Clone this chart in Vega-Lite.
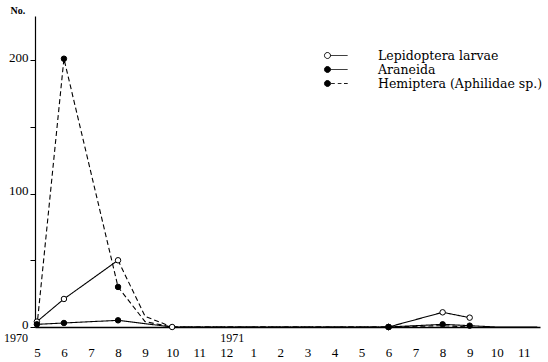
{
  "$schema": "https://vega.github.io/schema/vega-lite/v6.json",
  "width": 505,
  "height": 311,
  "autosize": {"type": "none"},
  "padding": {"left": 35, "top": 16, "right": 8, "bottom": 35},
  "background": "white",
  "config": {
    "view": {"stroke": null},
    "font": "Liberation Serif",
    "axis": {"domainColor": "black", "tickColor": "black", "labelColor": "black", "titleColor": "black", "grid": false, "labelFont": "Liberation Serif", "titleFont": "Liberation Serif"},
    "legend": {"labelFont": "DejaVu Serif", "labelColor": "black"}
  },
  "data": {
    "values": [
      {"series": "Lepidoptera larvae", "seg": "L1", "style": "solid", "t": 0, "v": 4, "obs": true},
      {"series": "Lepidoptera larvae", "seg": "L1", "style": "solid", "t": 1, "v": 21, "obs": true},
      {"series": "Lepidoptera larvae", "seg": "L1", "style": "solid", "t": 3, "v": 50, "obs": true},
      {"series": "Lepidoptera larvae", "seg": "L2", "style": "dashed", "t": 3, "v": 50, "obs": false},
      {"series": "Lepidoptera larvae", "seg": "L2", "style": "dashed", "t": 4, "v": 8, "obs": false},
      {"series": "Lepidoptera larvae", "seg": "L2", "style": "dashed", "t": 5, "v": 0, "obs": true},
      {"series": "Lepidoptera larvae", "seg": "L3", "style": "dashdot", "t": 5, "v": 0, "obs": false},
      {"series": "Lepidoptera larvae", "seg": "L3", "style": "dashdot", "t": 13, "v": 0, "obs": false},
      {"series": "Lepidoptera larvae", "seg": "L4", "style": "solid", "t": 13, "v": 0, "obs": true},
      {"series": "Lepidoptera larvae", "seg": "L4", "style": "solid", "t": 15, "v": 11, "obs": true},
      {"series": "Lepidoptera larvae", "seg": "L4", "style": "solid", "t": 16, "v": 7, "obs": true},
      {"series": "Araneida", "seg": "A1", "style": "solid", "t": 0, "v": 2, "obs": true},
      {"series": "Araneida", "seg": "A1", "style": "solid", "t": 1, "v": 3, "obs": true},
      {"series": "Araneida", "seg": "A1", "style": "solid", "t": 3, "v": 5, "obs": true},
      {"series": "Araneida", "seg": "A1", "style": "solid", "t": 5, "v": 0, "obs": false},
      {"series": "Araneida", "seg": "A1", "style": "solid", "t": 13, "v": 0, "obs": true},
      {"series": "Araneida", "seg": "A1", "style": "solid", "t": 15, "v": 2, "obs": true},
      {"series": "Araneida", "seg": "A1", "style": "solid", "t": 16, "v": 1, "obs": true},
      {"series": "Araneida", "seg": "A1", "style": "solid", "t": 17, "v": 0, "obs": false},
      {"series": "Araneida", "seg": "A1", "style": "solid", "t": 18, "v": 0, "obs": false},
      {"series": "Araneida", "seg": "A1", "style": "solid", "t": 18.5, "v": 0, "obs": false},
      {"series": "Hemiptera (Aphilidae sp.)", "seg": "H1", "style": "dashed", "t": 0, "v": 0, "obs": false},
      {"series": "Hemiptera (Aphilidae sp.)", "seg": "H1", "style": "dashed", "t": 1, "v": 201, "obs": true},
      {"series": "Hemiptera (Aphilidae sp.)", "seg": "H1", "style": "dashed", "t": 3, "v": 30, "obs": true},
      {"series": "Hemiptera (Aphilidae sp.)", "seg": "H1", "style": "dashed", "t": 4, "v": 4, "obs": false},
      {"series": "Hemiptera (Aphilidae sp.)", "seg": "H1", "style": "dashed", "t": 5, "v": 0, "obs": false},
      {"series": "Hemiptera (Aphilidae sp.)", "seg": "H1", "style": "dashed", "t": 13, "v": 0, "obs": true},
      {"series": "Hemiptera (Aphilidae sp.)", "seg": "H1", "style": "dashed", "t": 15, "v": 1, "obs": false},
      {"series": "Hemiptera (Aphilidae sp.)", "seg": "H1", "style": "dashed", "t": 16, "v": 0, "obs": false}
    ]
  },
  "encoding": {
    "x": {
      "field": "t", "type": "quantitative",
      "scale": {"domain": [-0.07, 18.6], "nice": false, "zero": false},
      "axis": {
        "values": [0, 1, 2, 3, 4, 5, 6, 7, 8, 9, 10, 11, 12, 13, 14, 15, 16, 17, 18],
        "tickCount": 19,
        "labelExpr": "'' + ((datum.value + 4) % 12 + 1)",
        "ticks": false, "title": null, "labelPadding": 19, "labelFontSize": 13,
        "labelFlush": false, "labelOverlap": false, "domainWidth": 1.5
      }
    }
  },
  "layer": [
    {
      "mark": {"type": "line", "strokeWidth": 1.1},
      "encoding": {
        "y": {
          "field": "v", "type": "quantitative",
          "scale": {"domain": [0, 233], "nice": false},
          "axis": {
            "values": [0, 50, 100, 150, 200],
            "labelExpr": "datum.value % 100 === 0 ? datum.label : ''",
            "title": "No.", "titleAngle": 0, "titleX": -25, "titleY": -1,
            "titleAlign": "left", "titleBaseline": "bottom", "titleFontSize": 10, "titleFontWeight": "bold",
            "tickSize": 5, "labelFontSize": 13, "labelPadding": 2, "labelOffset": -3, "domainWidth": 1.2
          }
        },
        "color": {
          "field": "series", "type": "nominal",
          "scale": {"domain": ["Lepidoptera larvae", "Araneida", "Hemiptera (Aphilidae sp.)"], "range": ["black", "black", "black"]},
          "legend": {
            "orient": "none", "legendX": 296, "legendY": 33, "title": null,
            "symbolSize": 144, "symbolStrokeWidth": 1, "labelFontSize": 12.5, "labelOffset": 34, "rowPadding": 1, "labelLimit": 400,
            "symbolType": "M -1.67 -0.5 A 0.5 0.5 0 1 1 -1.67 0.5 A 0.5 0.5 0 1 1 -1.67 -0.5 M -1.17 0 L 1.67 0",
            "encode": {
              "symbols": {
                "update": {
                  "fill": {"signal": "datum.value === 'Lepidoptera larvae' ? 'white' : 'black'"},
                  "stroke": {"value": "black"},
                  "strokeDash": {"value": [1, 0]},
                  "shape": {"signal": "datum.value === 'Hemiptera (Aphilidae sp.)' ? 'M -1.67 -0.5 A 0.5 0.5 0 1 1 -1.67 0.5 A 0.5 0.5 0 1 1 -1.67 -0.5 M -1.05 0 L -0.45 0 M 0.05 0 L 0.65 0 M 1.1 0 L 1.7 0' : 'M -1.67 -0.5 A 0.5 0.5 0 1 1 -1.67 0.5 A 0.5 0.5 0 1 1 -1.67 -0.5 M -1.17 0 L 1.67 0'"}
                }
              }
            }
          }
        },
        "strokeDash": {
          "field": "style", "type": "nominal",
          "scale": {"domain": ["solid", "dashed", "dashdot"], "range": [[1, 0], [5, 3], [6, 2, 1, 2]]},
          "legend": null
        },
        "detail": {"field": "seg"},
        "order": {"field": "t"}
      }
    },
    {
      "transform": [{"filter": "datum.obs"}],
      "mark": {"type": "point", "shape": "circle", "size": 30, "stroke": "black", "strokeWidth": 1, "opacity": 1},
      "encoding": {
        "y": {"field": "v", "type": "quantitative"},
        "fill": {
          "field": "series", "type": "nominal",
          "scale": {"domain": ["Lepidoptera larvae", "Araneida", "Hemiptera (Aphilidae sp.)"], "range": ["white", "black", "black"]},
          "legend": null
        }
      }
    },
    {
      "data": {"values": [{"t": 0, "yr": "1970"}, {"t": 8, "yr": "1971"}]},
      "mark": {"type": "text", "dx": -21, "dy": 15, "baseline": "alphabetic", "fontSize": 12, "font": "Liberation Serif", "color": "black"},
      "encoding": {
        "y": {"datum": 0},
        "text": {"field": "yr"}
      }
    }
  ]
}
